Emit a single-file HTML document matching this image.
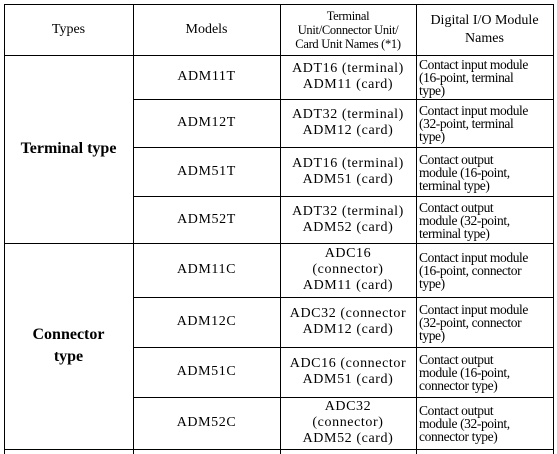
<!DOCTYPE html>
<html><head><style>
body{margin:0;width:557px;height:454px;background:#fff;overflow:hidden;font-family:"Liberation Serif",serif;color:#000}
.h{position:absolute;height:1px;background:#000}
.v{position:absolute;width:1px;background:#000}
.t{position:absolute;text-align:center;font-size:14px;line-height:16px;display:flex;align-items:center;justify-content:center}
.c3{letter-spacing:0.6px}
.d{position:absolute;font-size:13.5px;line-height:13px;left:419px;width:136px;display:flex;align-items:center;letter-spacing:-0.4px;white-space:nowrap}
.b{font-weight:bold;font-size:16px;line-height:22px}
</style></head><body>
<div class="h" style="left:4px;width:550px;top:4px"></div>
<div class="h" style="left:4px;width:550px;top:55px"></div>
<div class="h" style="left:133px;width:421px;top:99px"></div>
<div class="h" style="left:133px;width:421px;top:147px"></div>
<div class="h" style="left:133px;width:421px;top:196px"></div>
<div class="h" style="left:4px;width:550px;top:243px"></div>
<div class="h" style="left:133px;width:421px;top:297px"></div>
<div class="h" style="left:133px;width:421px;top:347px"></div>
<div class="h" style="left:133px;width:421px;top:397px"></div>
<div class="h" style="left:4px;width:550px;top:449px"></div>
<div class="v" style="left:4px;top:4px;height:450px"></div>
<div class="v" style="left:133px;top:4px;height:450px"></div>
<div class="v" style="left:280px;top:4px;height:450px"></div>
<div class="v" style="left:416px;top:4px;height:450px"></div>
<div class="v" style="left:553px;top:4px;height:450px"></div>

<div class="t" style="left:4px;width:129px;top:4px;height:51px">Types</div>
<div class="t" style="left:133px;width:147px;top:4px;height:51px">Models</div>
<div class="t" style="left:280px;width:136px;top:4px;height:51px;font-size:12.5px;line-height:14px;letter-spacing:-0.3px">Terminal<br>Unit/Connector Unit/<br>Card Unit Names (*1)</div>
<div class="t" style="left:416px;width:137px;top:4px;height:51px;line-height:18px">Digital I/O Module<br>Names</div>

<div class="t b" style="left:4px;width:129px;top:55px;height:188px">Terminal type</div>
<div class="t b" style="left:4px;width:129px;top:243px;height:206px">Connector<br>type</div>

<div class="t c3" style="left:133px;width:147px;top:55px;height:44px">ADM11T</div>
<div class="t c3" style="left:133px;width:147px;top:99px;height:48px">ADM12T</div>
<div class="t c3" style="left:133px;width:147px;top:147px;height:49px">ADM51T</div>
<div class="t c3" style="left:133px;width:147px;top:196px;height:47px">ADM52T</div>
<div class="t c3" style="left:133px;width:147px;top:243px;height:54px">ADM11C</div>
<div class="t c3" style="left:133px;width:147px;top:297px;height:50px">ADM12C</div>
<div class="t c3" style="left:133px;width:147px;top:347px;height:50px">ADM51C</div>
<div class="t c3" style="left:133px;width:147px;top:397px;height:52px">ADM52C</div>

<div class="t c3" style="left:280px;width:136px;top:55px;height:44px">ADT16 (terminal)<br>ADM11 (card)</div>
<div class="t c3" style="left:280px;width:136px;top:99px;height:48px">ADT32 (terminal)<br>ADM12 (card)</div>
<div class="t c3" style="left:280px;width:136px;top:147px;height:49px">ADT16 (terminal)<br>ADM51 (card)</div>
<div class="t c3" style="left:280px;width:136px;top:196px;height:47px">ADT32 (terminal)<br>ADM52 (card)</div>
<div class="t c3" style="left:280px;width:136px;top:243px;height:54px">ADC16<br>(connector)<br>ADM11 (card)</div>
<div class="t c3" style="left:280px;width:136px;top:297px;height:50px">ADC32 (connector<br>ADM12 (card)</div>
<div class="t c3" style="left:280px;width:136px;top:347px;height:50px">ADC16 (connector<br>ADM51 (card)</div>
<div class="t c3" style="left:280px;width:136px;top:397px;height:52px">ADC32<br>(connector)<br>ADM52 (card)</div>

<div class="d" style="top:56px;height:43px">Contact input module<br>(16-point, terminal<br>type)</div>
<div class="d" style="top:100px;height:47px">Contact input module<br>(32-point, terminal<br>type)</div>
<div class="d" style="top:148px;height:48px">Contact output<br>module (16-point,<br>terminal type)</div>
<div class="d" style="top:197px;height:46px">Contact output<br>module (32-point,<br>terminal type)</div>
<div class="d" style="top:244px;height:53px">Contact input module<br>(16-point, connector<br>type)</div>
<div class="d" style="top:298px;height:49px">Contact input module<br>(32-point, connector<br>type)</div>
<div class="d" style="top:348px;height:49px">Contact output<br>module (16-point,<br>connector type)</div>
<div class="d" style="top:398px;height:51px">Contact output<br>module (32-point,<br>connector type)</div>
</body></html>
